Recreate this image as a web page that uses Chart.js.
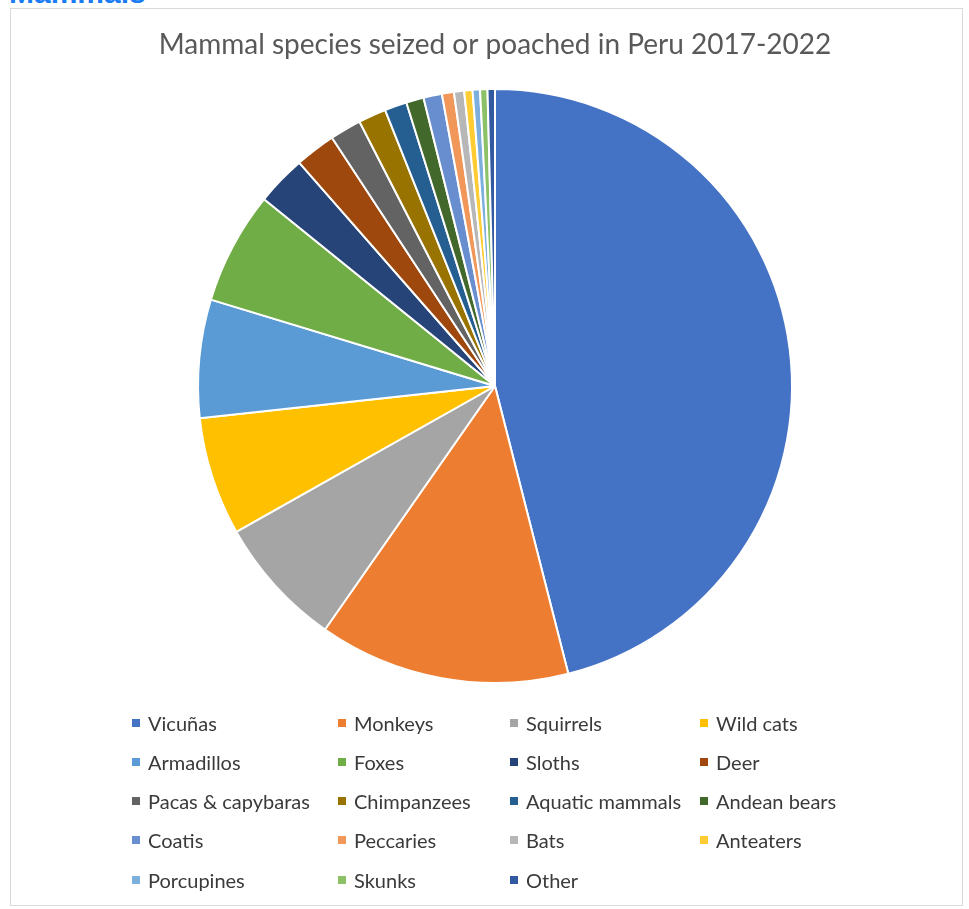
<!DOCTYPE html>
<html>
<head>
<meta charset="utf-8">
<script src="https://cdn.jsdelivr.net/npm/chart.js@4.4.1/dist/chart.umd.min.js"></script>
<style>
  html, body { margin: 0; padding: 0; background: #ffffff; }
  body { width: 969px; height: 909px; position: relative; overflow: hidden; }
  #heading { position: absolute; left: 9px; top: -22px; font: bold 30px "Liberation Sans", Arial, sans-serif; line-height: 30px; color: #1a7cf5; white-space: nowrap; }
  #frame { position: absolute; left: 10px; top: 8px; width: 953px; height: 898px; border: 1px solid #d9d9d9; box-sizing: border-box; }
  #wrap { position: absolute; left: 0; top: 0; width: 969px; height: 909px; }
  #legend { position: absolute; left: 132px; top: 703px; display: grid; grid-template-columns: 206px 172px 190px 200px; grid-auto-rows: 39.25px; font-family: Lato, "Open Sans", sans-serif; font-size: 20px; color: #3a3a3a; }
  #legend .item { display: flex; align-items: center; white-space: nowrap; }
  #legend .box { width: 8px; height: 8px; margin-right: 8px; flex: none; }
</style>
</head>
<body>
<div id="heading">Mammals</div>
<div id="frame"></div>
<div id="wrap"><canvas id="c" width="969" height="909"></canvas></div>
<div id="legend"></div>
<script>
const chartTitle = "Mammal species seized or poached in Peru 2017-2022";
const categories = ["Vicuñas", "Monkeys", "Squirrels", "Wild cats", "Armadillos", "Foxes", "Sloths", "Deer",
  "Pacas & capybaras", "Chimpanzees", "Aquatic mammals", "Andean bears", "Coatis", "Peccaries", "Bats",
  "Anteaters", "Porcupines", "Skunks", "Other"];
const sharePercent = [45.8, 13.6, 7.1, 6.4, 6.4, 6.1, 2.7, 2.2, 1.7, 1.5, 1.2, 0.95, 1.0, 0.65, 0.55, 0.45, 0.4, 0.4, 0.4];
const sliceColors = ["#4472C4", "#ED7D31", "#A5A5A5", "#FFC000", "#5B9BD5", "#70AD47", "#264478", "#9E480E",
  "#636363", "#997300", "#255E91", "#43682B", "#698ED0", "#F1975A", "#B7B7B7", "#FFCD33", "#7CAFDD", "#8CC168", "#335AA1"];

const legendEl = document.getElementById("legend");
categories.forEach((name, i) => {
  const item = document.createElement("div");
  item.className = "item";
  const box = document.createElement("span");
  box.className = "box";
  box.style.background = sliceColors[i];
  const label = document.createElement("span");
  label.textContent = name;
  item.appendChild(box);
  item.appendChild(label);
  legendEl.appendChild(item);
});

new Chart(document.getElementById("c"), {
  type: "pie",
  data: {
    labels: categories,
    datasets: [{
      data: sharePercent,
      backgroundColor: sliceColors,
      borderColor: "#ffffff",
      borderWidth: 2
    }]
  },
  options: {
    responsive: false,
    animation: false,
    layout: { padding: { left: 21, right: 0, top: 20, bottom: 225 } },
    plugins: {
      legend: { display: false },
      tooltip: { enabled: false },
      title: {
        display: true,
        text: chartTitle,
        color: "#595959",
        font: { family: "Lato, 'Open Sans', sans-serif", size: 28, weight: "normal" },
        padding: { top: 8.2, bottom: 26.2 }
      }
    }
  }
});
</script>
</body>
</html>
